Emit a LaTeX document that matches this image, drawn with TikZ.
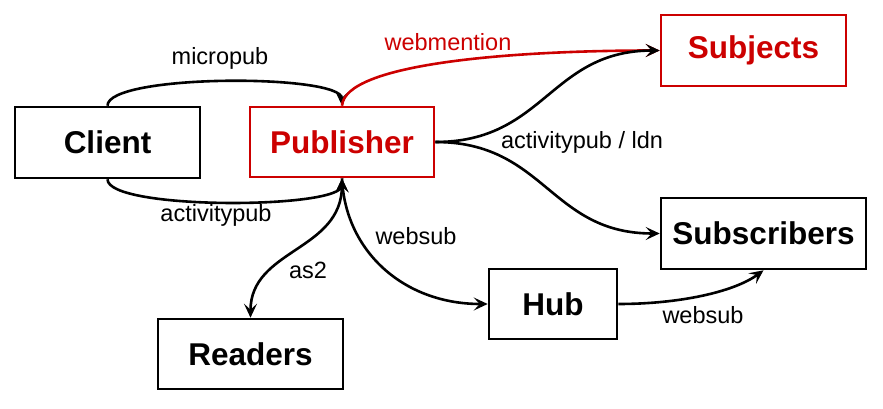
\documentclass[tikz,border=0pt]{standalone}
\usepackage{fontspec}
\setmainfont{Liberation Sans}
\usetikzlibrary{arrows.meta}
\definecolor{accent}{HTML}{CC0000}
\begin{document}
\begin{tikzpicture}[x=1pt,y=-1pt,
  actor/.style={draw, line width=2.6pt, inner sep=0pt, font=\fontsize{31.5}{36}\selectfont\bfseries},
  hot/.style={actor, draw=accent, text=accent},
  flow/.style={line width=2.6pt, -{Stealth[length=14pt,width=13pt,inset=6pt]}},
  twoway/.style={line width=2.6pt, {Stealth[length=14pt,width=13pt,inset=6pt]}-{Stealth[length=14pt,width=13pt,inset=6pt]}},
  tag/.style={inner sep=0pt, font=\fontsize{23.5}{28}\selectfont}]
  \useasboundingbox (0,0) rectangle (883,409);
  \fill[white] (0,0) rectangle (883,409);

  % participants
  \node[actor, minimum width=185pt, minimum height=71pt] (client) at (107.5,142.5) {Client};
  \node[hot, minimum width=184pt, minimum height=70pt] (publisher) at (342,142) {Publisher};
  \node[hot, minimum width=185pt, minimum height=71pt] (subjects) at (753.5,50.5) {Subjects};
  \node[actor, minimum width=205pt, minimum height=71pt] (subscribers) at (763.5,233.5) {Subscribers};
  \node[actor, minimum width=128pt, minimum height=70pt] (hub) at (553,304) {Hub};
  \node[actor, minimum width=185pt, minimum height=70pt] (readers) at (250.5,354) {Readers};

  % protocol flows
  \draw[flow] (client.north) .. controls +(0,-32) and +(0,-32) .. (publisher.north);
  \draw[flow] (client.south) .. controls +(0,31) and +(0,31) .. (publisher.south);
  \draw[flow, draw=accent] (publisher.north) .. controls +(3,-42) and +(-150,0) .. (subjects.west);
  \draw[flow] (publisher.east) .. controls +(110,0) and +(-110,0) .. (subjects.west);
  \draw[flow] (publisher.east) .. controls +(110,0) and +(-110,0) .. (subscribers.west);
  \draw[flow] (publisher.south) .. controls +(3,72) and +(-85,0) .. (hub.west);
  \draw[twoway] (publisher.south) .. controls +(0,73) and +(0,-69) .. (readers.north);
  \draw[flow] (hub.east) .. controls +(60,0) and +(-30,22) .. (subscribers.south);

  % protocol names
  \node[tag] (lmicropub) at (220,58) {micropub};
  \node[tag] (lapub) at (216,215) {activitypub};
  \node[tag, text=accent] (lwebmention) at (448,42.5) {webmention};
  \node[tag] (lapubldn) at (582,142) {activitypub / ldn};
  \node[tag] (lwebsub) at (416,236) {websub};
  \node[tag] (las) at (308,270) {as2};
  \node[tag] (lwebsubhub) at (703,315.5) {websub};
\end{tikzpicture}
\end{document}
